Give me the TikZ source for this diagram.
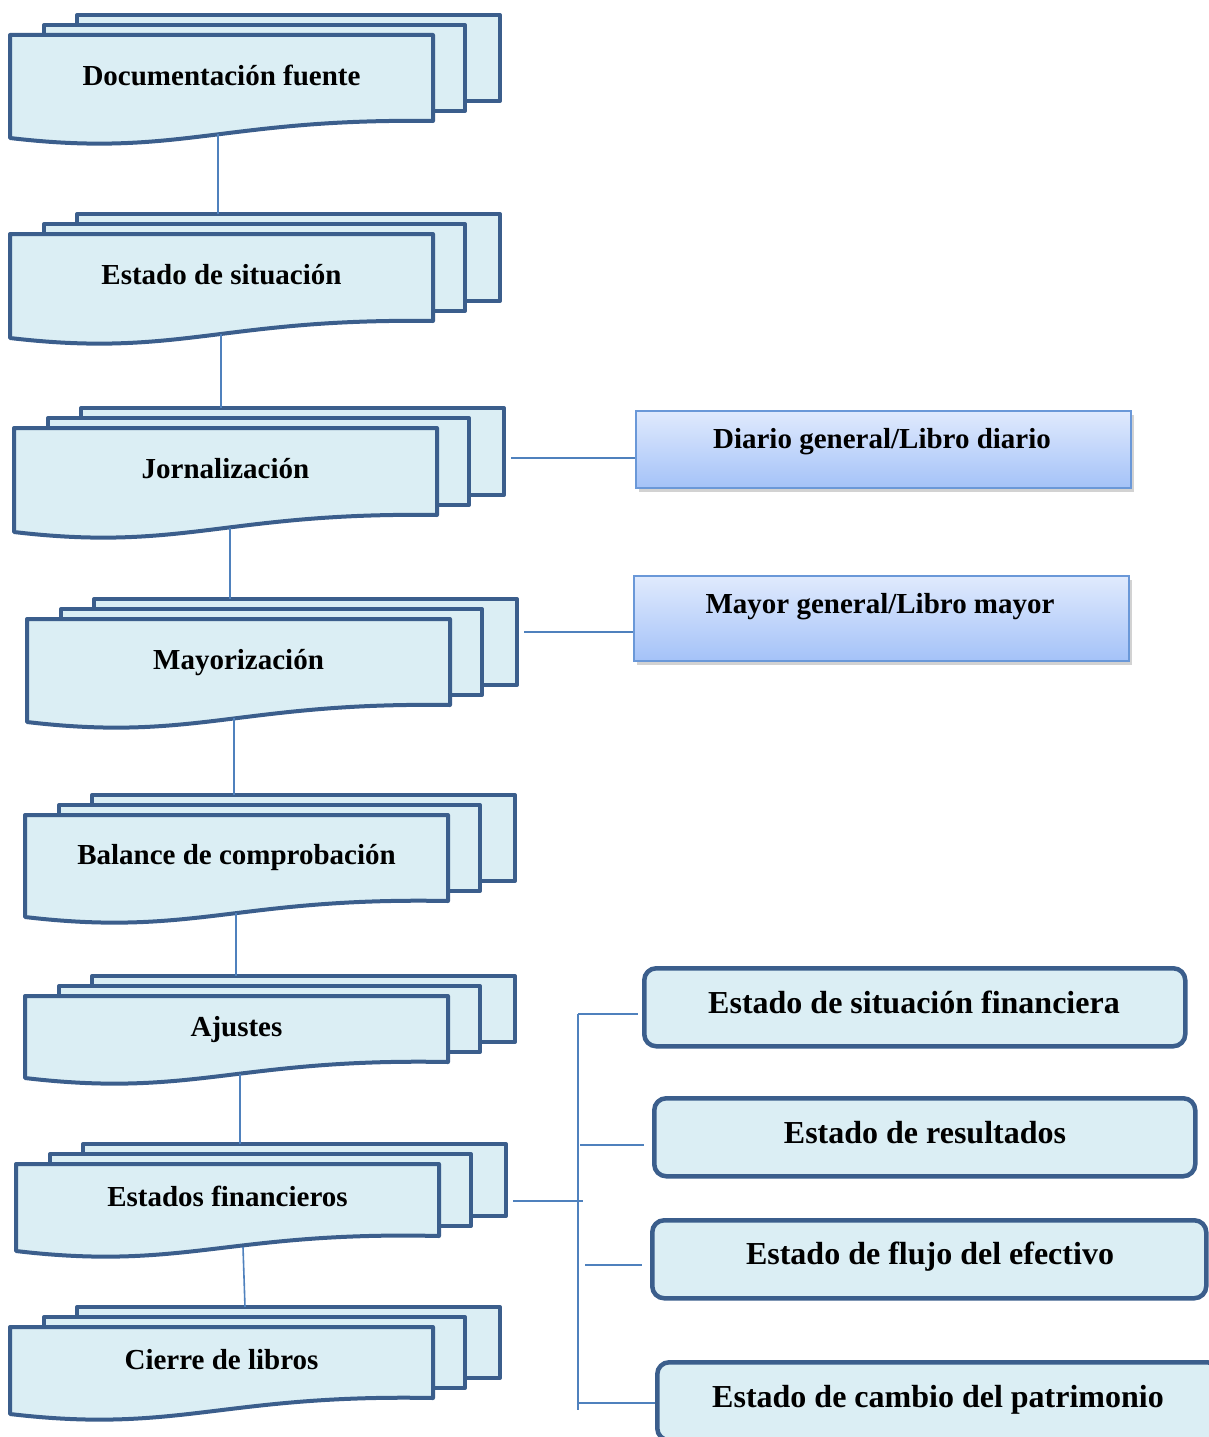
\documentclass[tikz,border=0pt]{standalone}
\usepackage{fontspec}
\setmainfont{Liberation Serif}
\usetikzlibrary{shadows,calc}
\definecolor{docfill}{HTML}{DBEEF4}
\definecolor{docline}{HTML}{3B5E8C}
\definecolor{conn}{HTML}{4F81BD}
\definecolor{gtop}{HTML}{E0EAFD}
\definecolor{gbot}{HTML}{A4C2F8}
\definecolor{gline}{HTML}{6A98D8}
\tikzset{
 docsheet/.style={fill=docfill, draw=docline, line width=4pt, line join=round},
 conline/.style={draw=conn, line width=1.6pt},
 doctext/.style={font=\bfseries\fontsize{29}{34}\selectfont, inner sep=0pt},
 gradbox/.style={draw=gline, line width=2pt, top color=gtop, bottom color=gbot,
   drop shadow={shadow xshift=3pt, shadow yshift=-4pt, opacity=0.35}},
 rbox/.style={fill=docfill, draw=docline, line width=4.5pt, rounded corners=12pt},
 rtext/.style={font=\bfseries\fontsize{32}{38}\selectfont, inner sep=0pt},
}
\newcommand\mdoc[8]{%
 \draw[docsheet] ({#2+67},{#3-20}) rectangle ({#2+490},{#3+#4-#5-20});
 \draw[docsheet] ({#2+34},{#3-10}) rectangle ({#2+455},{#3+#4-#5-10});
 \draw[docsheet] (#2,#3) -- ({#2+423},#3) -- ({#2+423},{#3+#4-#5})
   .. controls ({#2+211.5},{#3+#4-20}) and ({#2+169.2},{#3+#4+20}) .. (#2,{#3+#4}) -- cycle;
 \node[doctext, anchor=base] (#1) at ({#2+211.5},{#3+0.49*#4}) {#8};
 \coordinate (#1-t) at (#6,{#3-20});
 \coordinate (#1-b) at (#7,{#3+#4-4});
}
\begin{document}
\begin{tikzpicture}[x=1pt,y=-1pt]
\clip (0,0) rectangle (1209,1437);
\fill[white] (0,0) rectangle (1209,1437);

\mdoc{d1}{10}{35}{103}{17}{218}{218}{Documentación fuente}
\mdoc{d2}{10}{234}{104}{17}{218}{221}{Estado de situación}
\mdoc{d3}{14}{428}{104}{17}{221}{230}{Jornalización}
\mdoc{d4}{27}{619}{103}{17}{230}{234}{Mayorización}
\mdoc{d5}{25}{815}{102}{16}{234}{236}{Balance de comprobación}
\mdoc{d6}{25}{996}{82}{16}{236}{240}{Ajustes}
\mdoc{d7}{16}{1164}{87}{15}{240}{243}{Estados financieros}
\mdoc{d8}{10}{1327}{87}{16}{245}{245}{Cierre de libros}

\draw[conline] (d1-b) -- (d2-t);
\draw[conline] (d2-b) -- (d3-t);
\draw[conline] (d3-b) -- (d4-t);
\draw[conline] (d4-b) -- (d5-t);
\draw[conline] (d5-b) -- (d6-t);
\draw[conline] (d6-b) -- (d7-t);
\draw[conline] (d7-b) -- (d8-t);

% gradient boxes
\node[gradbox, minimum width=495pt, minimum height=77pt, anchor=north west] (diario) at (635,410) {};
\node[doctext, anchor=base] (diariot) at (882,448) {Diario general/Libro diario};
\node[gradbox, minimum width=495pt, minimum height=85pt, anchor=north west] (mayor) at (633,575) {};
\node[doctext, anchor=base] (mayort) at (880,613) {Mayor general/Libro mayor};

\coordinate (je) at (511,458);
\coordinate (me) at (524,632);
\draw[conline] (je) -- (je -| diario.west);
\draw[conline] (me) -- (me -| mayor.west);

% rounded boxes
\node[rbox, minimum width=541pt, minimum height=78pt, anchor=north west] (r1) at (642,966) {};
\node[rtext, anchor=base] (r1t) at (914,1013) {Estado de situación financiera};
\node[rbox, minimum width=541pt, minimum height=78pt, anchor=north west] (r2) at (652,1096) {};
\node[rtext, anchor=base] (r2t) at (925,1143) {Estado de resultados};
\node[rbox, minimum width=554pt, minimum height=78pt, anchor=north west] (r3) at (650,1218) {};
\node[rtext, anchor=base] (r3t) at (930,1264) {Estado de flujo del efectivo};
\node[rbox, minimum width=562pt, minimum height=78pt, anchor=north west] (r4) at (655,1360) {};
\node[rtext, anchor=base] (r4t) at (938,1407) {Estado de cambio del patrimonio};

% bracket
\coordinate (tA) at (578,1014);
\coordinate (tB) at (578,1410);
\coordinate (b2) at (580,1145);
\coordinate (b3) at (585,1265);
\coordinate (b4) at (578,1403);
\coordinate (fe) at (513,1201);
\coordinate (tm) at (583,1201);
\draw[conline] (tA) -- (tB);
\draw[conline, shorten >=4pt] (tA) -- (tA -| r1.west);
\draw[conline, shorten >=8pt] (b2) -- (b2 -| r2.west);
\draw[conline, shorten >=8pt] (b3) -- (b3 -| r3.west);
\draw[conline] (b4) -- (b4 -| r4.west);
\draw[conline] (fe) -- (tm);
\end{tikzpicture}
\end{document}
